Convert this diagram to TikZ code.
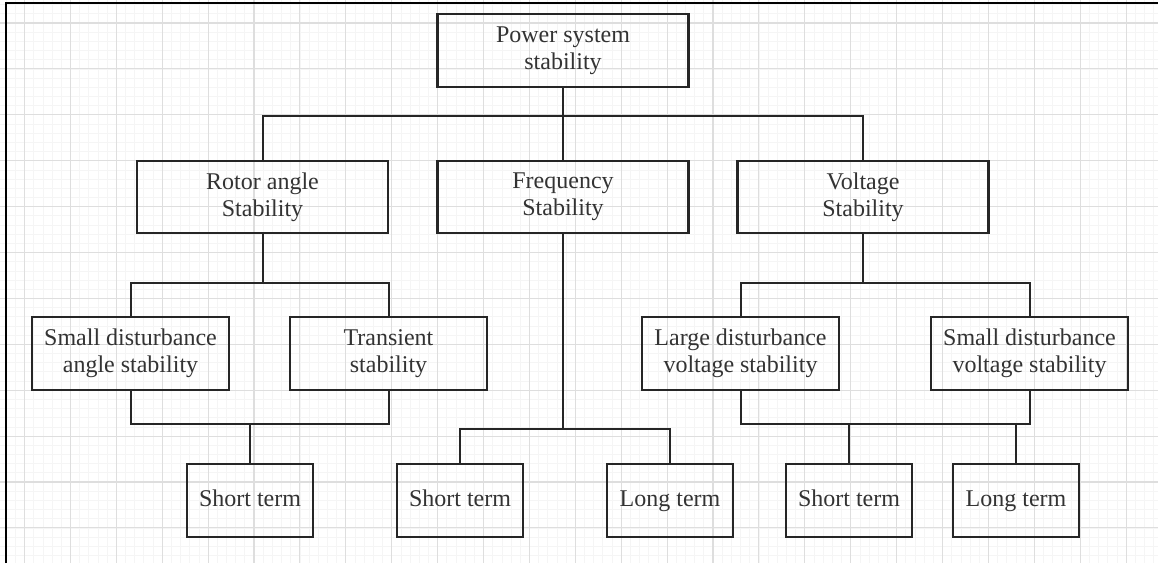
\documentclass[tikz,border=0pt]{standalone}
\usepackage{fontspec}
\setmainfont{Liberation Serif}
\begin{document}
\begin{tikzpicture}[x=1pt,y=-1pt,
  box/.style={draw=black!85, line width=2.2pt, inner sep=0pt, align=center,
    text=black!80, font=\fontsize{24}{27}\selectfont},
  leaf/.style={box, minimum width=126pt, minimum height=73pt,
    text height=17pt, text depth=5pt},
  link/.style={draw=black!85, line width=2pt},
  majorgrid/.style={draw=black!13, line width=1.1pt},
  minorgrid/.style={draw=black!4, line width=0.7pt}]
\useasboundingbox (0,0) rectangle (1158,563);
\fill[white] (0,0) rectangle (1158,563);

% background grid: fine lines, then the heavier lines every fifth step
\foreach \i in {-2,...,124} {
  \draw[minorgrid] ({24.5+9.18*\i},0) -- ({24.5+9.18*\i},563);
}
\foreach \i in {-2,...,60} {
  \draw[minorgrid] (0,{23+9.18*\i}) -- (1158,{23+9.18*\i});
}
\foreach \i in {0,...,24} {
  \draw[majorgrid] ({24.5+45.9*\i},0) -- ({24.5+45.9*\i},563);
}
\foreach \i in {0,...,11} {
  \draw[majorgrid] (0,{23+45.9*\i}) -- (1158,{23+45.9*\i});
}

% frame edges
\draw[black, line width=2pt] (6,563) -- (6,3) -- (1158,3);

% bus heights
\coordinate (busA) at (0,116);
\coordinate (busB) at (0,282.5);
\coordinate (busC) at (0,423.5);
\coordinate (busD) at (0,429);

% nodes
\node[box, minimum width=251pt, minimum height=73pt] (root) at (563,50.5) {Power system\\stability};

\node[box, minimum width=251pt, minimum height=72pt] (rotor) at (262.5,197) {Rotor angle\\Stability};
\node[box, minimum width=251pt, minimum height=72pt] (freq)  at (563,197)   {Frequency\\Stability};
\node[box, minimum width=251pt, minimum height=72pt] (volt)  at (863,197)   {Voltage\\Stability};

\node[box, minimum width=197pt, minimum height=73pt] (sdas)  at (130.5,353.5) {Small disturbance\\angle stability};
\node[box, minimum width=197pt, minimum height=73pt] (trans) at (388.5,353.5) {Transient\\stability};
\node[box, minimum width=197pt, minimum height=73pt] (ldvs)  at (740.5,353.5) {Large disturbance\\voltage stability};
\node[box, minimum width=197pt, minimum height=73pt] (sdvs)  at (1029.5,353.5) {Small disturbance\\voltage stability};

\node[leaf] (stA) at (250,500.5)  {Short term};
\node[leaf] (stB) at (460,500.5)  {Short term};
\node[leaf] (ltB) at (670,500.5)  {Long term};
\node[leaf] (stC) at (849,500.5)  {Short term};
\node[leaf] (ltC) at (1016,500.5) {Long term};

% connectors
\draw[link] (root.south) -- (freq.north);
\draw[link] (rotor.north) |- (volt.north |- busA) -- (volt.north);

\draw[link] (rotor.south) -- (rotor.south |- busB);
\draw[link] (sdas.north) |- (trans.north |- busB) -- (trans.north);
\draw[link] (sdas.south) |- (trans.south |- busC) -- (trans.south);
\draw[link] (stA.north) -- (stA.north |- busC);

\draw[link] (freq.south) -- (freq.south |- busD);
\draw[link] (stB.north) |- (ltB.north |- busD) -- (ltB.north);

\draw[link] (volt.south) -- (volt.south |- busB);
\draw[link] (ldvs.north) |- (sdvs.north |- busB) -- (sdvs.north);
\draw[link] (ldvs.south) |- (sdvs.south |- busC) -- (sdvs.south);
\draw[link] (stC.north) -- (stC.north |- busC);
\draw[link] (ltC.north) -- (ltC.north |- busC);
\end{tikzpicture}
\end{document}
